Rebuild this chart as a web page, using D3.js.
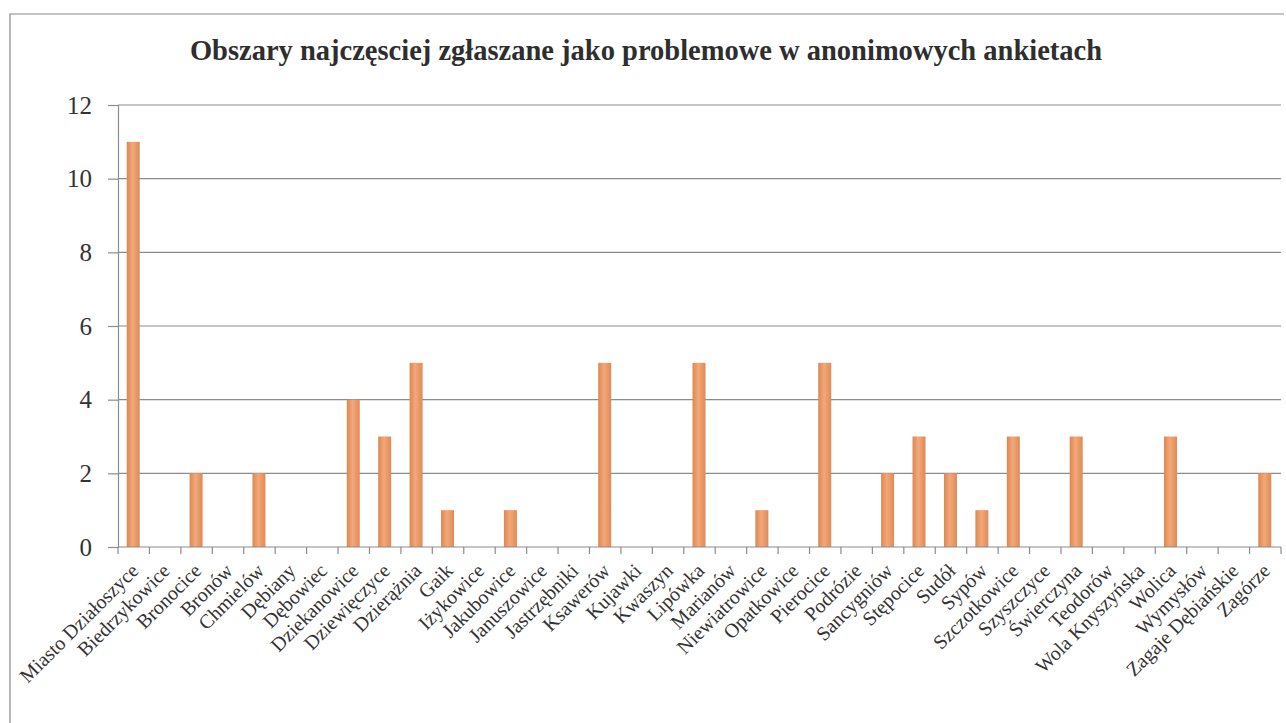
<!DOCTYPE html>
<html>
<head>
<meta charset="utf-8">
<script src="https://cdn.jsdelivr.net/npm/d3@7"></script>
<style>
	body { margin: 0; background: #fff; }
	svg { display: block; }
</style>
</head>
<body>
<div id="svg-container"></div>
<script>
// DATA
const title = "Obszary najczęsciej zgłaszane jako problemowe w anonimowych ankietach";
const villages = [
	"Miasto Działoszyce", "Biedrzykowice", "Bronocice", "Bronów", "Chmielów",
	"Dębiany", "Dębowiec", "Dziekanowice", "Dziewięczyce", "Dzierążnia",
	"Gaik", "Iżykowice", "Jakubowice", "Januszowice", "Jastrzębniki",
	"Ksawerów", "Kujawki", "Kwaszyn", "Lipówka", "Marianów",
	"Niewiatrowice", "Opatkowice", "Pierocice", "Podrózie", "Sancygniów",
	"Stępocice", "Sudół", "Sypów", "Szczotkowice", "Szyszczyce",
	"Świerczyna", "Teodorów", "Wola Knyszyńska", "Wolica", "Wymysłów",
	"Zagaje Dębiańskie", "Zagórze"
];
const counts = [
	11, 0, 2, 0, 2,
	0, 0, 4, 3, 5,
	1, 0, 1, 0, 0,
	5, 0, 0, 5, 0,
	1, 0, 5, 0, 2,
	3, 2, 1, 3, 0,
	3, 0, 0, 3, 0,
	0, 2
];
const yTicks = [0, 2, 4, 6, 8, 10, 12];

const FONT = "'Liberation Serif', 'DejaVu Serif', serif";


// CHART
function graphData() {
	const w = 1286;
	const h = 723;
	const padTop = 105;
	const padBottom = 176;
	const padLeft = 118;
	const padRight = 5;

	const svg = d3.select("#svg-container")
		.append("svg")
		.attr("width", w)
		.attr("height", h)
		.style("font-family", FONT);

	// bar gradient (cylinder look)
	const grad = svg.append("defs").append("linearGradient")
		.attr("id", "barGrad")
		.attr("x1", "0%").attr("x2", "100%")
		.attr("y1", "0%").attr("y2", "0%");
	grad.append("stop").attr("offset", "0%").attr("stop-color", "#dc8753");
	grad.append("stop").attr("offset", "45%").attr("stop-color", "#f3a878");
	grad.append("stop").attr("offset", "100%").attr("stop-color", "#de8a58");

	// frame
	svg.append("path")
		.attr("d", `M10,${h} L10,14 L1284,14`)
		.attr("fill", "none")
		.attr("stroke", "#8a8a8a")
		.attr("stroke-width", 1.2);

	// title
	svg.append("text")
		.text(title)
		.attr("x", 646)
		.attr("y", 60)
		.attr("text-anchor", "middle")
		.attr("fill", "#2e2e2e")
		.style("font-family", FONT)
		.style("font-size", "28.5px")
		.style("font-weight", "bold");

	// scales
	const xScale = d3.scaleBand()
		.domain(villages)
		.range([padLeft, w - padRight]);
	const yScale = d3.scaleLinear()
		.domain([0, 12])
		.range([h - padBottom, padTop]);

	// gridlines
	svg.append("g")
		.selectAll("line")
		.data(yTicks.filter(t => t > 0))
		.enter()
		.append("line")
		.attr("x1", padLeft)
		.attr("x2", w - padRight)
		.attr("y1", d => yScale(d))
		.attr("y2", d => yScale(d))
		.attr("stroke", "#8c8c8c")
		.attr("stroke-width", 1.2);

	// y-axis
	const yAxis = d3.axisLeft(yScale)
		.tickValues(yTicks)
		.tickSize(10)
		.tickPadding(16);
	const gy = svg.append("g")
		.attr("transform", `translate(${padLeft}, 0)`)
		.call(yAxis)
		.attr("font-family", null)
		.attr("font-size", null);
	gy.selectAll("path, line").attr("stroke", "#8c8c8c").attr("stroke-width", 1.2);
	gy.selectAll("text")
		.style("font-size", "25px")
		.style("font-family", FONT)
		.attr("fill", "#333");

	// bars
	svg.append("g")
		.selectAll("rect")
		.data(villages)
		.enter()
		.append("rect")
		.attr("x", d => xScale(d) + xScale.bandwidth() / 2 - 7)
		.attr("width", 13)
		.attr("y", (d, i) => yScale(counts[i]))
		.attr("height", (d, i) => yScale(0) - yScale(counts[i]))
		.attr("fill", "url(#barGrad)");

	// x-axis
	const gx = svg.append("g")
		.attr("transform", `translate(0, ${h - padBottom})`);
	gx.append("line")
		.attr("x1", padLeft)
		.attr("x2", w - padRight)
		.attr("stroke", "#8c8c8c")
		.attr("stroke-width", 1.2);
	gx.selectAll(".tick")
		.data(villages.concat(["end"]))
		.enter()
		.append("line")
		.attr("x1", (d, i) => padLeft + i * xScale.step())
		.attr("x2", (d, i) => padLeft + i * xScale.step())
		.attr("y1", 0)
		.attr("y2", 7)
		.attr("stroke", "#8c8c8c")
		.attr("stroke-width", 1.2);
	gx.selectAll("text")
		.data(villages)
		.enter()
		.append("text")
		.text(d => d)
		.attr("text-anchor", "end")
		.attr("fill", "#333")
		.attr("transform", d => `translate(${xScale(d) + xScale.bandwidth() / 2 + 6}, 25) rotate(-45)`)
		.style("font-family", FONT)
		.style("font-size", "20px");
}

document.addEventListener('DOMContentLoaded', () => {
	graphData();
});
</script>
</body>
</html>
